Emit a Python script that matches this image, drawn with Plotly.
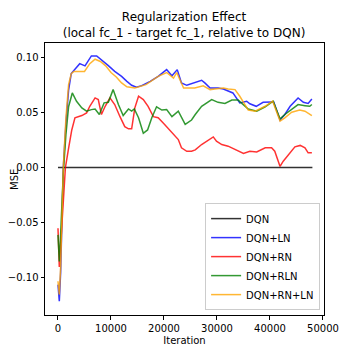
import plotly.graph_objects as go

# Values (iteration, MSE difference)
dqn_it = [0, 48000]
dqn = [0.0, 0.0]

ln_it = [0, 250, 500, 1000, 1500, 2000, 2500, 3000, 4100, 5100, 6300, 7300, 8200,
         9500, 10700, 12000, 13000, 13900, 14800, 15800, 17400, 18900, 20500, 21500,
         22500, 23300, 24300, 25800, 27100, 27700, 28700, 30200, 31200, 33000, 34300,
         35600, 36200, 37400, 38700, 40300, 40700, 41900, 42800, 43800, 45300, 46300,
         47200, 47900]
ln = [-0.106, -0.121, -0.095, 0.0, 0.04, 0.07, 0.085, 0.088, 0.094, 0.092, 0.101, 0.101,
      0.0976, 0.0922, 0.087, 0.0825, 0.078, 0.0744, 0.0726, 0.0741, 0.078, 0.0825, 0.0886,
      0.083, 0.0886, 0.0766, 0.0744, 0.0766, 0.079, 0.0766, 0.072, 0.072, 0.071, 0.0675,
      0.0585, 0.060, 0.0577, 0.0554, 0.059, 0.0594, 0.0594, 0.043, 0.048, 0.0554, 0.063,
      0.059, 0.058, 0.062]

rn_it = [0, 250, 500, 1000, 1400, 1950, 2600, 3200, 4500, 5400, 6000, 7000, 7600, 8200,
         8900, 9800, 10700, 11700, 12600, 13300, 13900, 14500, 15200, 16100, 17000, 18000,
         18900, 19900, 20800, 21800, 22700, 23300, 24300, 25200, 25900, 27100, 28400,
         29300, 29900, 30900, 32100, 33700, 35000, 36200, 37500, 39100, 40300, 40900,
         41900, 42500, 43500, 44700, 45700, 46600, 47200, 47900]
rn = [-0.055, -0.09, -0.07, -0.03, 0.0, 0.016, 0.034, 0.045, 0.047, 0.0494, 0.0554, 0.063,
      0.0615, 0.048, 0.0554, 0.063, 0.057, 0.046, 0.037, 0.035, 0.035, 0.054, 0.0645,
      0.0615, 0.0554, 0.046, 0.045, 0.040, 0.035, 0.030, 0.0253, 0.0178, 0.0147, 0.0147,
      0.016, 0.0208, 0.0253, 0.0277, 0.0238, 0.0208, 0.0193, 0.016, 0.0127, 0.0147, 0.014,
      0.0178, 0.0178, 0.0147, 0.001, 0.0057, 0.0118, 0.0187, 0.020, 0.0178, 0.0133, 0.0133]

rln_it = [0, 250, 500, 1000, 1500, 2000, 2700, 3500, 4500, 5400, 6300, 7000, 7800, 8700,
          9500, 10400, 11400, 12300, 13300, 13900, 14400, 15200, 16100, 16900, 17700,
          18600, 19600, 20500, 21500, 22700, 24000, 25200, 25900, 27100, 29000, 30200,
          31500, 32800, 34000, 35000, 35900, 37500, 39100, 40600, 41900, 42800, 44100,
          45300, 46600, 47500, 47900]
rln = [-0.061, -0.085, -0.06, -0.005, 0.03, 0.055, 0.0675, 0.060, 0.054, 0.051, 0.0524,
       0.053, 0.048, 0.0585, 0.059, 0.0705, 0.057, 0.047, 0.053, 0.051, 0.053, 0.045, 0.031,
       0.034, 0.045, 0.055, 0.052, 0.0524, 0.046, 0.051, 0.039, 0.043, 0.048, 0.0554,
       0.0615, 0.059, 0.058, 0.061, 0.061, 0.057, 0.053, 0.051, 0.055, 0.060, 0.044, 0.048,
       0.0524, 0.057, 0.056, 0.0554, 0.057]

rnln_it = [0, 250, 500, 1000, 1500, 2000, 2500, 3000, 4000, 5000, 6000, 7000, 8000, 9000,
           10000, 11000, 12000, 13000, 14500, 16600, 18900, 20500, 21800, 22400, 23700,
           25800, 27400, 28700, 29600, 31200, 32100, 33400, 34300, 35900, 37200, 39100,
           40500, 41900, 42800, 44100, 45600, 46600, 47900]
rnln = [-0.103, -0.115, -0.09, 0.0, 0.045, 0.075, 0.085, 0.087, 0.087, 0.087, 0.094, 0.098,
        0.096, 0.092, 0.086, 0.082, 0.0766, 0.073, 0.072, 0.075, 0.0825, 0.086, 0.081,
        0.086, 0.072, 0.072, 0.074, 0.0705, 0.071, 0.072, 0.071, 0.0705, 0.0645, 0.052,
        0.051, 0.0554, 0.060, 0.042, 0.045, 0.050, 0.052, 0.051, 0.047]

series = [
    ('DQN', dqn_it, dqn, 'black'),
    ('DQN+LN', ln_it, ln, 'blue'),
    ('DQN+RN', rn_it, rn, 'red'),
    ('DQN+RLN', rln_it, rln, 'green'),
    ('DQN+RN+LN', rnln_it, rnln, 'orange'),
]

fig = go.Figure()
for name, xs, ys, col in series:
    fig.add_trace(go.Scatter(x=xs, y=ys, mode='lines', name=name, opacity=0.8,
                             line=dict(color=col, width=1.5)))

axis_style = dict(showline=True, linecolor='black', linewidth=1, mirror=True,
                  ticks='outside', ticklen=3.5, tickcolor='black', showgrid=False,
                  zeroline=False, automargin=False,
                  tickfont=dict(size=10, color='black'))

# page body adds an 8px offset, so margins are shifted to compensate
fig.update_layout(
    width=360, height=360,
    margin=dict(l=37, r=44, t=35, b=53),
    paper_bgcolor='white', plot_bgcolor='white',
    font=dict(family='DejaVu Sans', color='black'),
    title=dict(text='Regularization Effect<br>(local fc_1 - target fc_1, relative to DQN)',
               x=0.489, xanchor='center', y=0.963, yanchor='top',
               font=dict(size=12)),
    xaxis=dict(range=[-2450, 50190], tickvals=[0, 10000, 20000, 30000, 40000, 50000],
               tickformat='d',
               title=dict(text='Iteration', font=dict(size=10), standoff=4), **axis_style),
    yaxis=dict(range=[-0.1335, 0.1127], tickvals=[-0.10, -0.05, 0.0, 0.05, 0.10],
               tickformat='.2f', **axis_style),
    legend=dict(x=0.986, y=0.018, xanchor='right', yanchor='bottom',
                bgcolor='rgba(255,255,255,0.8)', bordercolor='#cccccc', borderwidth=1,
                font=dict(size=10), tracegroupgap=0, itemwidth=30),
    annotations=[dict(text='MSE', xref='paper', yref='paper', x=-0.138, y=0.5,
                      textangle=-90, showarrow=False, font=dict(size=10))],
)

fig.write_html("out.html")
